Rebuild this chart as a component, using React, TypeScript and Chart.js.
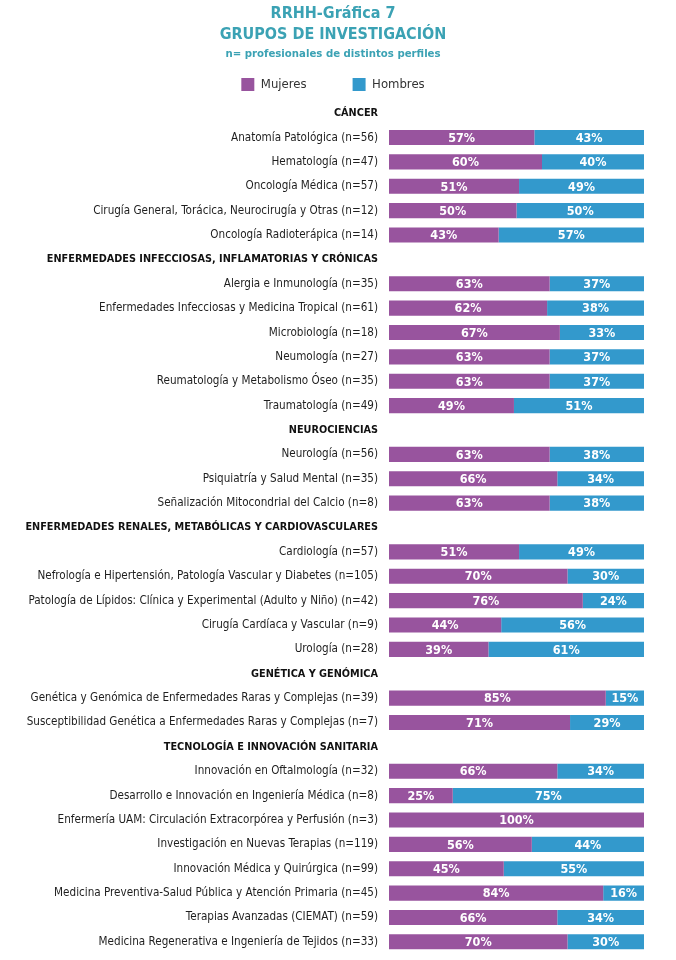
import React, { useEffect, useRef } from "react";
import { Chart, registerables } from "chart.js";

Chart.register(...registerables);

const categories: string[] = [
  "CÁNCER",
  "Anatomía Patológica (n=56)",
  "Hematología (n=47)",
  "Oncología Médica (n=57)",
  "Cirugía General, Torácica, Neurocirugía y Otras (n=12)",
  "Oncología Radioterápica (n=14)",
  "ENFERMEDADES INFECCIOSAS, INFLAMATORIAS Y CRÓNICAS",
  "Alergia e Inmunología (n=35)",
  "Enfermedades Infecciosas y Medicina Tropical (n=61)",
  "Microbiología (n=18)",
  "Neumología (n=27)",
  "Reumatología y Metabolismo Óseo (n=35)",
  "Traumatología (n=49)",
  "NEUROCIENCIAS",
  "Neurología (n=56)",
  "Psiquiatría y Salud Mental (n=35)",
  "Señalización Mitocondrial del Calcio (n=8)",
  "ENFERMEDADES RENALES, METABÓLICAS Y CARDIOVASCULARES",
  "Cardiología (n=57)",
  "Nefrología e Hipertensión, Patología Vascular y Diabetes (n=105)",
  "Patología de Lípidos: Clínica y Experimental (Adulto y Niño) (n=42)",
  "Cirugía Cardíaca y Vascular (n=9)",
  "Urología (n=28)",
  "GENÉTICA Y GENÓMICA",
  "Genética y Genómica de Enfermedades Raras y Complejas (n=39)",
  "Susceptibilidad Genética a Enfermedades Raras y Complejas (n=7)",
  "TECNOLOGÍA E INNOVACIÓN SANITARIA",
  "Innovación en Oftalmología (n=32)",
  "Desarrollo e Innovación en Ingeniería Médica (n=8)",
  "Enfermería UAM: Circulación Extracorpórea y Perfusión (n=3)",
  "Investigación en Nuevas Terapias (n=119)",
  "Innovación Médica y Quirúrgica (n=99)",
  "Medicina Preventiva-Salud Pública y Atención Primaria (n=45)",
  "Terapias Avanzadas (CIEMAT) (n=59)",
  "Medicina Regenerativa e Ingeniería de Tejidos (n=33)",
];

const isHeader: boolean[] = [
  true, false, false, false, false, false,
  true, false, false, false, false, false, false,
  true, false, false, false,
  true, false, false, false, false, false,
  true, false, false,
  true, false, false, false, false, false, false, false, false,
];

const mujeres: (number | null)[] = [
  null, 57, 60, 51, 50, 43,
  null, 63, 62, 67, 63, 63, 49,
  null, 63, 66, 63,
  null, 51, 70, 76, 44, 39,
  null, 85, 71,
  null, 66, 25, 100, 56, 45, 84, 66, 70,
];

const hombres: (number | null)[] = [
  null, 43, 40, 49, 50, 57,
  null, 37, 38, 33, 37, 37, 51,
  null, 38, 34, 38,
  null, 49, 30, 24, 56, 61,
  null, 15, 29,
  null, 34, 75, 0, 44, 55, 16, 34, 30,
];

const seriesNames = ["Mujeres", "Hombres"];
const titleLines = ["RRHH-Gráfica 7", "GRUPOS DE INVESTIGACIÓN"];
const subtitleText = "n= profesionales de distintos perfiles";

const PURPLE = "#98549E";
const BLUE = "#3399CC";
const TEAL = "#3BA2B4";
const FONT = "'Liberation Sans Narrow', 'DejaVu Sans Condensed', sans-serif";

const valueLabels = {
  id: "valueLabels",
  afterDatasetsDraw(chart: any) {
    const ctx = chart.ctx;
    ctx.save();
    ctx.fillStyle = "#ffffff";
    ctx.font = `bold 12.5px ${FONT}`;
    ctx.textAlign = "center";
    ctx.textBaseline = "middle";
    chart.data.datasets.forEach((ds: any, i: number) => {
      const meta = chart.getDatasetMeta(i);
      meta.data.forEach((bar: any, j: number) => {
        const v = ds.data[j];
        if (v === null || v === undefined || v === 0) return;
        const p = bar.getProps(["x", "y", "base"], true);
        const right = Math.min(p.x, chart.chartArea.right);
        ctx.fillText(v + "%", (right + p.base) / 2, p.y + 1);
      });
    });
    ctx.restore();
  },
};

export default function App() {
  const ref = useRef<HTMLCanvasElement | null>(null);

  useEffect(() => {
    if (!ref.current) return;
    const chart = new Chart(ref.current, {
      type: "bar",
      data: {
        labels: categories,
        datasets: [
          {
            label: seriesNames[0],
            data: mujeres as any,
            backgroundColor: PURPLE,
            categoryPercentage: 1,
            barPercentage: 0.62,
          },
          {
            label: seriesNames[1],
            data: hombres as any,
            backgroundColor: BLUE,
            categoryPercentage: 1,
            barPercentage: 0.62,
          },
        ],
      },
      options: {
        indexAxis: "y",
        animation: false,
        responsive: false,
        layout: { padding: { left: 22, right: 32, top: 0, bottom: 6 } },
        scales: {
          x: {
            stacked: true,
            min: 0,
            max: 100,
            display: false,
          },
          y: {
            stacked: true,
            grid: { display: false, drawTicks: false },
            border: { display: false },
            ticks: {
              padding: 11,
              autoSkip: false,
              font: (c: any) =>
                isHeader[c.index]
                  ? { family: FONT, size: 10.8, weight: "bold" }
                  : { family: FONT, size: 11.6, weight: "normal" },
              color: (c: any) => (isHeader[c.index] ? "#111111" : "#1e1e1e"),
            },
            afterFit: (scale: any) => {
              scale.width = 367;
              scale.paddingTop = 0;
              scale.paddingBottom = 0;
            },
          },
        },
        plugins: {
          title: {
            display: true,
            text: titleLines,
            color: TEAL,
            font: { family: FONT, size: 16, weight: "bold", lineHeight: 1.3125 },
            padding: { top: 3.5, bottom: -14.5 },
          },
          subtitle: {
            display: true,
            text: subtitleText,
            color: TEAL,
            font: { family: FONT, size: 11.3, weight: "bold", lineHeight: 1.27 },
            padding: { top: 15.8, bottom: -29.15 },
          },
          legend: {
            display: true,
            position: "top",
            labels: {
              boxWidth: 13,
              boxHeight: 13,
              padding: 46,
              color: "#333333",
              font: { family: FONT, size: 13 },
            },
          },
          tooltip: { enabled: false },
        },
      },
      plugins: [valueLabels],
    });
    return () => chart.destroy();
  }, []);

  return (
    <div style={{ position: "fixed", left: 0, top: 0, width: 676, height: 960, background: "#fff" }}>
      <canvas ref={ref} width={676} height={960} style={{ width: 676, height: 960, display: "block" }} />
    </div>
  );
}
